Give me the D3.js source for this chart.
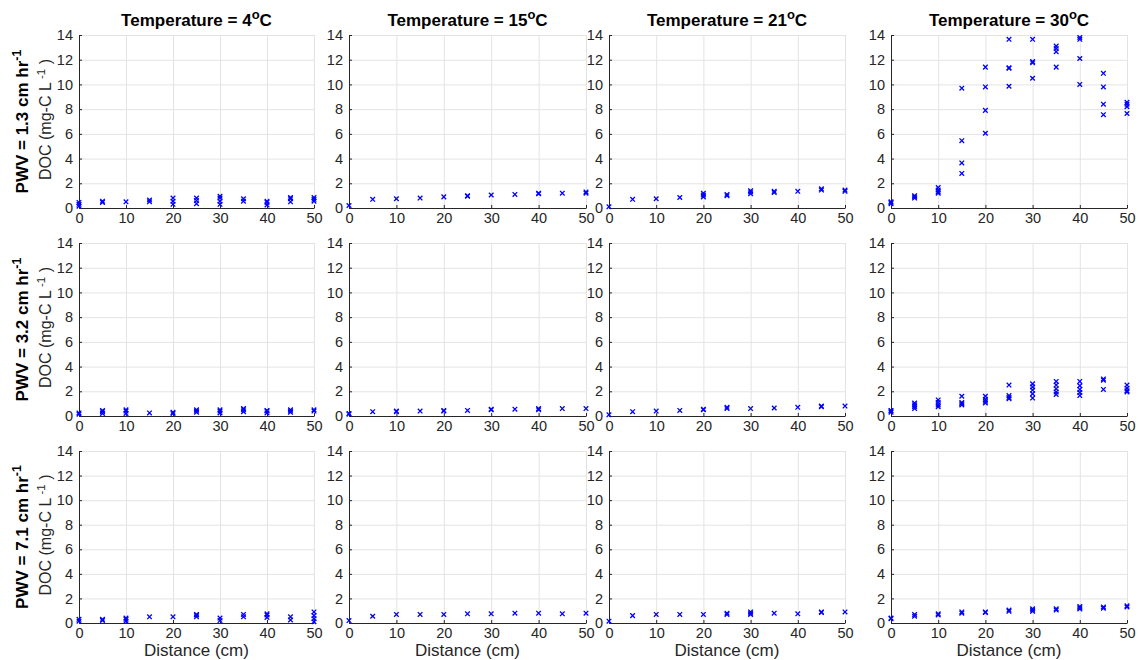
<!DOCTYPE html>
<html>
<head>
<meta charset="utf-8">
<script src="https://cdn.jsdelivr.net/npm/d3@7"></script>
<style>
  body { margin: 0; background: #fff; }
  svg { display: block; font-family: "Liberation Sans", Arial, Helvetica, sans-serif; }
  .tick text { fill: #262626; }
</style>
</head>
<body>
<div id="chart"></div>
<script>
// distances sampled along the column (cm)
var distances = [0, 5, 10, 15, 20, 25, 30, 35, 40, 45, 50];
var temperatures = [4, 15, 21, 30];
var pwv_labels = ["1.3", "3.2", "7.1"];
var x_ticks = [0, 10, 20, 30, 40, 50];
var y_ticks = [0, 2, 4, 6, 8, 10, 12, 14];

// DOC replicates (mg-C/L) per distance, one array per panel

// PWV = 1.3 cm/hr
var doc_p13_t4 = [[0.15, 0.3, 0.45], [0.45, 0.55], [0.5], [0.5, 0.65], [0.3, 0.55, 0.8], [0.35, 0.6, 0.8],
  [0.3, 0.55, 0.8, 0.95], [0.55, 0.75], [0.25, 0.45, 0.55], [0.5, 0.75, 0.85], [0.55, 0.7, 0.85]];
var doc_p13_t15 = [[0.2], [0.7], [0.75], [0.8], [0.9], [0.95, 1.0], [1.05], [1.1], [1.15, 1.2], [1.2], [1.2, 1.3]];
var doc_p13_t21 = [[0.1], [0.7], [0.75], [0.85], [0.9, 1.05, 1.2], [1.0, 1.1], [1.15, 1.3, 1.4], [1.25, 1.35],
  [1.35], [1.45, 1.55], [1.35, 1.45]];
var doc_p13_t30 = [[0.35, 0.45, 0.5], [0.8, 0.9, 1.0], [1.2, 1.3, 1.45, 1.65], [2.8, 3.65, 5.45, 9.7],
  [6.05, 7.9, 9.8, 11.4], [9.85, 11.3, 11.35, 13.65], [10.5, 11.75, 11.85, 13.65], [11.4, 12.65, 12.9, 13.1],
  [10.0, 12.1, 13.65, 13.8], [7.55, 8.4, 9.8, 10.9], [7.65, 8.2, 8.4, 8.55]];

// PWV = 3.2 cm/hr
var doc_p32_t4 = [[0.15, 0.25], [0.2, 0.35, 0.45], [0.2, 0.4, 0.5], [0.25], [0.2, 0.3], [0.3, 0.4, 0.5],
  [0.25, 0.4, 0.5], [0.35, 0.5, 0.6], [0.25, 0.4, 0.45], [0.3, 0.4, 0.5], [0.4, 0.5]];
var doc_p32_t15 = [[0.15, 0.2], [0.35], [0.35, 0.4], [0.4], [0.4, 0.45], [0.45], [0.5, 0.55], [0.55],
  [0.5, 0.6], [0.6], [0.6]];
var doc_p32_t21 = [[0.1], [0.35], [0.4], [0.45], [0.5, 0.55], [0.6, 0.7], [0.6], [0.65], [0.7], [0.75, 0.8], [0.8]];
var doc_p32_t30 = [[0.3, 0.4, 0.45], [0.6, 0.75, 0.9, 1.05], [0.75, 0.9, 1.1, 1.3], [0.9, 1.0, 1.1, 1.6],
  [1.05, 1.2, 1.35, 1.6], [1.4, 1.5, 1.65, 2.5], [1.45, 1.8, 2.1, 2.35, 2.6], [1.75, 1.95, 2.2, 2.5, 2.8],
  [1.65, 1.9, 2.15, 2.45, 2.8], [2.15, 2.9, 3.0], [1.95, 2.05, 2.25, 2.5]];

// PWV = 7.1 cm/hr
var doc_p71_t4 = [[0.15, 0.3], [0.2, 0.3], [0.15, 0.3, 0.4], [0.5], [0.5], [0.5, 0.65, 0.7], [0.2, 0.4],
  [0.5, 0.7], [0.45, 0.65, 0.75], [0.25, 0.5], [0.1, 0.35, 0.6, 0.9]];
var doc_p71_t15 = [[0.2], [0.55], [0.7], [0.7], [0.7], [0.75], [0.75], [0.8], [0.8], [0.75], [0.8]];
var doc_p71_t21 = [[0.15], [0.6], [0.7], [0.7], [0.7], [0.7, 0.8], [0.7, 0.8, 0.9], [0.8], [0.75], [0.85, 0.9], [0.9]];
var doc_p71_t30 = [[0.35, 0.4], [0.55, 0.7], [0.65, 0.75], [0.8, 0.9], [0.85, 0.9], [0.95, 1.05],
  [0.95, 1.05, 1.15], [1.05, 1.15], [1.15, 1.25, 1.35], [1.2, 1.3], [1.3, 1.4]];

var panel_data = [
  [doc_p13_t4, doc_p13_t15, doc_p13_t21, doc_p13_t30],
  [doc_p32_t4, doc_p32_t15, doc_p32_t21, doc_p32_t30],
  [doc_p71_t4, doc_p71_t15, doc_p71_t21, doc_p71_t30]
];

// panel placement (pixels)
var col_left = [79, 349, 609, 891],
    col_right = [314, 586, 845, 1127],
    row_top = [35, 243, 451],
    row_bottom = [208, 416, 623];

var svg = d3.select("#chart").append("svg")
    .attr("width", 1138)
    .attr("height", 660);

var xmark = "M-2.3,-2.3L2.3,2.3M-2.3,2.3L2.3,-2.3";

panel_data.forEach(function(row, r) {
  row.forEach(function(series, c) {
    var w = col_right[c] - col_left[c],
        h = row_bottom[r] - row_top[r];

    var x = d3.scaleLinear().domain([0, 50]).range([0, w]);
    var y = d3.scaleLinear().domain([0, 14]).range([h, 0]);

    var g = svg.append("g")
        .attr("transform", "translate(" + col_left[c] + "," + row_top[r] + ")");

    // grid lines
    g.append("g")
        .attr("class", "grid")
        .call(d3.axisBottom(x).tickValues(x_ticks.slice(1)).tickSize(h).tickFormat(""))
        .call(function(s) { s.select(".domain").remove(); })
        .selectAll("line").attr("stroke", "#e3e3e3");
    g.append("g")
        .attr("class", "grid")
        .call(d3.axisLeft(y).tickValues(y_ticks.slice(1)).tickSize(-w).tickFormat(""))
        .call(function(s) { s.select(".domain").remove(); })
        .selectAll("line").attr("stroke", "#e3e3e3");

    // axes with inward ticks
    var xa = g.append("g")
        .attr("transform", "translate(0," + h + ")")
        .call(d3.axisBottom(x).tickValues(x_ticks).tickSizeInner(-3).tickSizeOuter(0).tickPadding(5));
    var ya = g.append("g")
        .call(d3.axisLeft(y).tickValues(y_ticks).tickSizeInner(-3).tickSizeOuter(0).tickPadding(6));
    [xa, ya].forEach(function(a) {
      a.select(".domain").attr("stroke", "#262626");
      a.selectAll(".tick line").attr("stroke", "#262626");
      a.selectAll(".tick text").attr("font-size", 14.5).attr("font-family", "Liberation Sans, Arial, sans-serif");
    });

    // points
    distances.forEach(function(d, i) {
      series[i].forEach(function(v) {
        g.append("path")
            .attr("d", xmark)
            .attr("transform", "translate(" + x(d) + "," + y(v) + ")")
            .attr("stroke", "#0000ff")
            .attr("stroke-width", 1.3)
            .attr("fill", "none");
      });
    });

    // column titles
    if (r === 0) {
      var t = g.append("text")
          .attr("x", w / 2)
          .attr("y", -9)
          .attr("text-anchor", "middle")
          .attr("font-size", 17)
          .attr("font-weight", "bold")
          .attr("fill", "#000");
      t.append("tspan").text("Temperature = " + temperatures[c]);
      t.append("tspan").attr("dy", -7).attr("font-size", 13).text("o");
      t.append("tspan").attr("dy", 7).attr("font-size", 17).text("C");
    }

    // x label on bottom row
    if (r === 2) {
      g.append("text")
          .attr("x", w / 2)
          .attr("y", h + 33)
          .attr("text-anchor", "middle")
          .attr("font-size", 17)
          .attr("fill", "#262626")
          .text("Distance (cm)");
    }

    // row labels on first column
    if (c === 0) {
      var pl = g.append("text")
          .attr("transform", "translate(-51," + (h / 2) + ") rotate(-90)")
          .attr("text-anchor", "middle")
          .attr("font-size", 17)
          .attr("font-weight", "bold")
          .attr("fill", "#000");
      pl.append("tspan").text("PWV = " + pwv_labels[r] + " cm hr");
      pl.append("tspan").attr("dy", -7).attr("font-size", 12.5).text("-1");

      var dl = g.append("text")
          .attr("transform", "translate(-28," + (h / 2 - 2) + ") rotate(-90)")
          .attr("text-anchor", "middle")
          .attr("font-size", 16)
          .attr("fill", "#262626");
      dl.append("tspan").text("DOC (mg-C L");
      dl.append("tspan").attr("dy", -6.5).attr("font-size", 11.5).text(" -1");
      dl.append("tspan").attr("dy", 6.5).attr("font-size", 16).text(" )");
    }
  });
});
</script>
</body>
</html>
